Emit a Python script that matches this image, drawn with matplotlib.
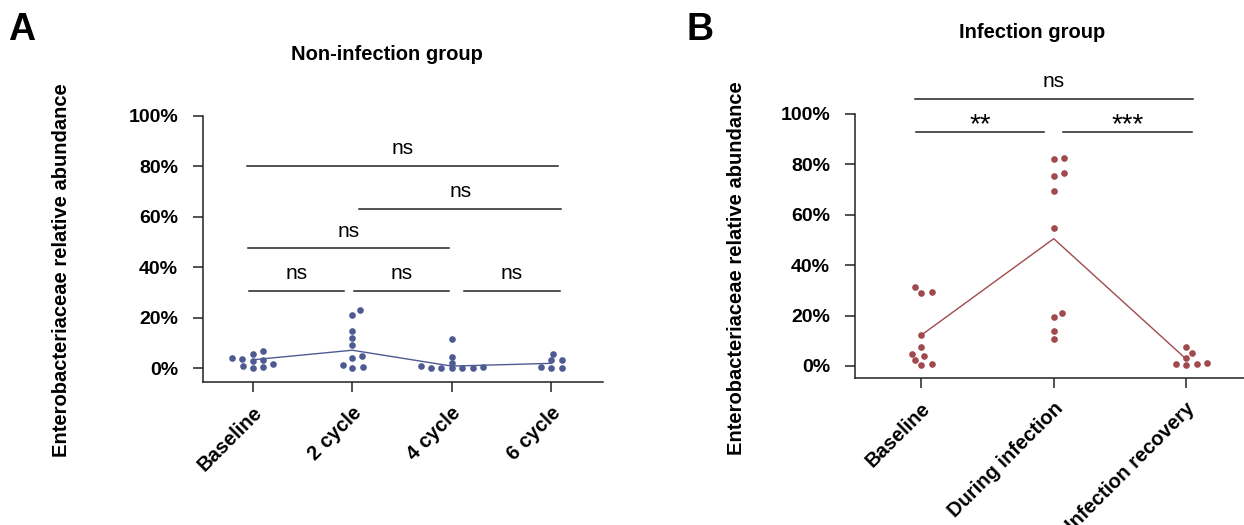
import numpy as np
import matplotlib
matplotlib.use('Agg')
import matplotlib.pyplot as plt
import matplotlib.transforms as mtransforms

plt.rcParams['font.family'] = ['Liberation Sans', 'DejaVu Sans']

# ---------------------------------------------------------------------------- #
#                                     DATA                                     #
# ---------------------------------------------------------------------------- #
groups_a = ['Baseline', '2 cycle', '4 cycle', '6 cycle']
baseline_a = [5.6, 3.0, 0.0, 6.6, 4.1, 1.6, 3.3, 0.5, 3.7, 0.8]
cycle2_a = [21.2, 5.0, 0.0, 14.7, 11.9, 9.3, 1.1, 23.0, 4.2, 0.4]
cycle4_a = [0.0, 0.9, 0.0, 11.4, 4.4, 0.5, 2.1, 0.0, 0.0, 0.0]
cycle6_a = [0.0, 3.3, 5.7, 0.3, 3.2, 0.0]
line_a = [3.3, 7.1, 0.8, 1.9]

groups_b = ['Baseline', 'During infection', 'Infection recovery']
baseline_b = [29.1, 4.8, 0.3, 29.5, 12.2, 7.7, 2.4, 31.2, 3.8, 0.8]
during_b = [82.5, 75.5, 19.3, 82.0, 76.5, 21.0, 69.4, 54.6, 13.9, 10.8]
recovery_b = [3.2, 0.4, 5.3, 1.2, 7.4, 0.7, 0.8]
line_b = [12.2, 50.5, 2.7]

yticks = [0, 20, 40, 60, 80, 100]
ytick_labels = ['0%', '20%', '40%', '60%', '80%', '100%']

# significance brackets: (x start, x end, y level, label)
brackets_a = [(-0.04, 0.92, 30.5, 'ns'), (1.02, 1.97, 30.5, 'ns'),
              (2.12, 3.09, 30.5, 'ns'), (-0.05, 1.97, 47.5, 'ns'),
              (1.07, 3.10, 63.1, 'ns'), (-0.06, 3.07, 80.3, 'ns')]
brackets_b = [(-0.04, 0.93, 93.0, '**'), (1.07, 2.04, 93.0, '***'),
              (-0.045, 2.05, 106.0, 'ns')]

BLUE = '#4e5b92'
RED = '#a04a4e'
W, H = 1244, 525


def swarm_offsets(vals, ax, dx_px=10.5, dy_px=6.4):
    # simple beeswarm: returns x offsets in data units
    bb = ax.get_position()
    x0, x1 = ax.get_xlim()
    y0, y1 = ax.get_ylim()
    xppu = bb.width*W/(x1-x0)
    yppu = bb.height*H/(y1-y0)
    vals = np.asarray(vals, dtype=float)
    offs = np.zeros(len(vals))
    placed = []
    cands = [0.0]
    for k in range(1, 80):
        cands += [k*0.5, -k*0.5]
    for i in np.argsort(vals, kind='stable'):
        y = vals[i]*yppu
        for c in cands:
            ok = True
            for xo, yo in placed:
                if ((xo-c)/dx_px)**2+((yo-y)/dy_px)**2 < 1:
                    ok = False
                    break
            if ok:
                placed.append((c, y))
                offs[i] = c/xppu
                break
    return offs


def style_axes(ax, labels, ylo):
    for s in ['top', 'right']:
        ax.spines[s].set_visible(False)
    for s in ['left', 'bottom']:
        ax.spines[s].set_linewidth(1.1)
        ax.spines[s].set_color('#222222')
    ax.spines['left'].set_bounds(ylo, 100)
    ax.set_yticks(yticks)
    ax.set_yticklabels(ytick_labels, fontsize=14, fontweight='bold')
    ax.set_xticks(range(len(labels)))
    ax.set_xticklabels(labels, fontsize=14.5, fontweight='bold', rotation=45,
                       ha='right', va='center', rotation_mode='anchor')
    ax.tick_params(axis='y', length=7, width=1.1, pad=11, color='#222222')
    ax.tick_params(axis='x', length=7, width=1.1, pad=13, color='#222222')
    off = mtransforms.ScaledTranslation(6/100, 0, ax.figure.dpi_scale_trans)
    for t in ax.get_xticklabels():
        t.set_transform(t.get_transform()+off)


def draw_group(ax, data, line, color):
    for i, vals in enumerate(data):
        offs = swarm_offsets(vals, ax)
        ax.scatter(i+offs, vals, s=23, color=color, zorder=3, linewidths=0,
                   clip_on=False)
    ax.plot(range(len(line)), line, color=color, lw=1.0, zorder=2)


def draw_brackets(ax, brackets):
    for x0, x1, y, lab in brackets:
        ax.plot([x0, x1], [y, y], color='#222222', lw=1.1, clip_on=False)
        if lab == 'ns':
            ax.annotate(lab, ((x0+x1)/2, y), xytext=(0, 8.5),
                        textcoords='offset points', ha='center',
                        va='baseline', fontsize=15, annotation_clip=False)
        else:
            ax.annotate(lab, ((x0+x1)/2, y), xytext=(0, -0.5),
                        textcoords='offset points', ha='center',
                        va='baseline', fontsize=20, annotation_clip=False)


fig = plt.figure(figsize=(W/100, H/100), dpi=100)

# ---------------------------------- Panel A --------------------------------- #
axA = fig.add_axes([203/W, 1-382/H, 400/W, 266/H])
axA.set_xlim(-0.5, 3.52)
axA.set_ylim(-5.5, 100)
style_axes(axA, groups_a, -5.5)
draw_group(axA, [baseline_a, cycle2_a, cycle4_a, cycle6_a], line_a, BLUE)
draw_brackets(axA, brackets_a)
fig.text(387/W, 1-55/H, 'Non-infection group', ha='center', va='center',
         fontsize=14.5, fontweight='bold')
fig.text(62/W, 1-270/H, 'Enterobacteriaceae relative abundance',
         rotation=90, ha='center', va='center', fontsize=14.5,
         fontweight='bold')
fig.text(22/W, 1-30/H, 'A', ha='center', va='center', fontsize=27,
         fontweight='bold')

# ---------------------------------- Panel B --------------------------------- #
axB = fig.add_axes([855/W, 1-378/H, 389/W, 264/H])
axB.set_xlim(-0.5, 2.436)
axB.set_ylim(-4.8, 100)
style_axes(axB, groups_b, -4.8)
draw_group(axB, [baseline_b, during_b, recovery_b], line_b, RED)
draw_brackets(axB, brackets_b)
fig.text(1032/W, 1-33/H, 'Infection group', ha='center', va='center',
         fontsize=14.5, fontweight='bold')
fig.text(737/W, 1-268/H, 'Enterobacteriaceae relative abundance',
         rotation=90, ha='center', va='center', fontsize=14.5,
         fontweight='bold')
fig.text(700/W, 1-30/H, 'B', ha='center', va='center', fontsize=27,
         fontweight='bold')

fig.savefig('out.png', dpi=100)
